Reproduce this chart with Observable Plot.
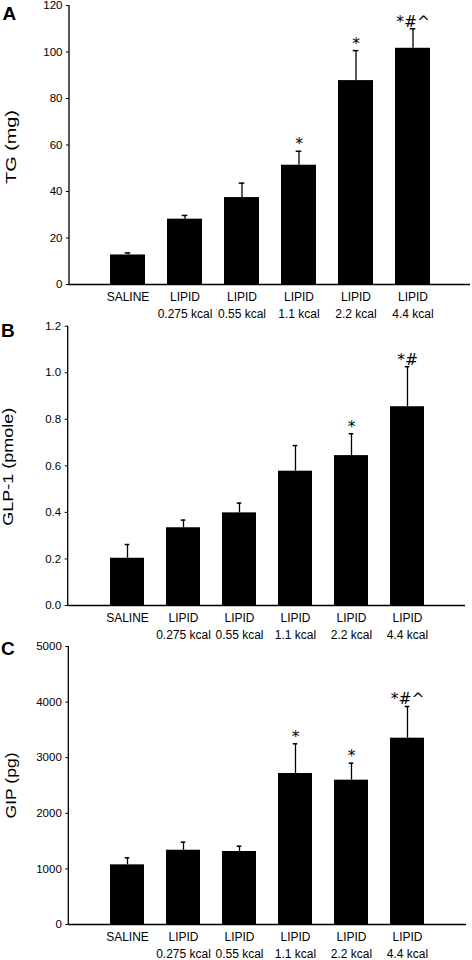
<!DOCTYPE html>
<html>
<head>
<meta charset="utf-8">
<script src="https://cdn.jsdelivr.net/npm/d3@7"></script>
<script src="https://cdn.jsdelivr.net/npm/@observablehq/plot@0.6"></script>
<style>
  body { margin: 0; background: #fff; font-family: "Liberation Sans", Arial, sans-serif; }
  #chart svg { display: block; }
</style>
</head>
<body>
<div id="chart"></div>
<script>
// ---- data ----
const groups = ["SALINE", "LIPID\n0.275 kcal", "LIPID\n0.55 kcal", "LIPID\n1.1 kcal", "LIPID\n2.2 kcal", "LIPID\n4.4 kcal"];

const tgMean = [12.7, 28.1, 37.4, 51.3, 87.7, 101.6];
const tgErr  = [0.9, 1.6, 6.2, 6.0, 12.9, 8.4];
const tgSig  = ["", "", "", "*", "*", "*#^"];
const tgTicks = [0, 20, 40, 60, 80, 100, 120];

const glpMean = [0.203, 0.334, 0.398, 0.577, 0.644, 0.854];
const glpErr  = [0.059, 0.033, 0.042, 0.110, 0.094, 0.172];
const glpSig  = ["", "", "", "", "*", "*#"];
const glpTicks = [0, 0.2, 0.4, 0.6, 0.8, 1.0, 1.2];

const gipMean = [1073, 1336, 1313, 2716, 2596, 3351];
const gipErr  = [126, 144, 95, 534, 305, 570];
const gipSig  = ["", "", "", "*", "*", "*#^"];
const gipTicks = [0, 1000, 2000, 3000, 4000, 5000];

const panelLetters = ["A", "B", "C"];
const yLabels = ["TG (mg)", "GLP-1 (pmole)", "GIP (pg)"];

// ---- layout / style ----
const W = 472, H = 320;
const FONT = "Liberation Sans, Arial, Helvetica, sans-serif";
const SIGFONT = "DejaVu Sans, Liberation Sans, sans-serif";

const panels = [
  {mean: tgMean, err: tgErr, sig: tgSig, ticks: tgTicks, fmt: d3.format("d"),
   mt: 5, mb: 36, ml: 69, mr: 2, xr: [99, 441], letterPos: [2, 13], labelX: 11, labelLen: 74, labelShift: 2},
  {mean: glpMean, err: glpErr, sig: glpSig, ticks: glpTicks, fmt: d3.format(".1f"),
   mt: 5.7, mb: 35, ml: 67.7, mr: 7, xr: [96.2, 438], letterPos: [0.5, 10], labelX: 8, labelLen: 118, labelShift: 1},
  {mean: gipMean, err: gipErr, sig: gipSig, ticks: gipTicks, fmt: d3.format("d"),
   mt: 6, mb: 36, ml: 68.3, mr: 6, xr: [96.5, 438], letterPos: [0.5, 8], labelX: 11, labelLen: 66, labelShift: 0}
];

function leftAxisLine(index, scales, values, dims) {
  const l = document.createElementNS("http://www.w3.org/2000/svg", "line");
  l.setAttribute("x1", dims.marginLeft);
  l.setAttribute("x2", dims.marginLeft);
  l.setAttribute("y1", dims.marginTop);
  l.setAttribute("y2", dims.height - dims.marginBottom);
  l.setAttribute("stroke", "black");
  l.setAttribute("stroke-width", 1.3);
  return l;
}

const root = document.getElementById("chart");

panels.forEach((p, i) => {
  const data = groups.map((g, j) => ({g, m: p.mean[j], e: p.err[j], top: p.mean[j] + p.err[j], s: p.sig[j]}));
  const ymax = p.ticks[p.ticks.length - 1];
  const chart = Plot.plot({
    width: W,
    height: H,
    marginTop: p.mt,
    marginBottom: p.mb,
    marginLeft: p.ml,
    marginRight: p.mr,
    style: {fontFamily: FONT, background: "white", color: "black", overflow: "visible"},
    x: {type: "band", domain: groups, range: p.xr, paddingInner: 0.386, paddingOuter: 0.193},
    y: {domain: [0, ymax]},
    marks: [
      Plot.barY(data, {x: "g", y: "m", fill: "black"}),
      Plot.ruleX(data, {x: "g", y1: "m", y2: "top", stroke: "black", strokeWidth: 1.3}),
      Plot.tickY(data, {x: "g", y: "top", stroke: "black", strokeWidth: 1.5, insetLeft: 14.7, insetRight: 14.7}),
      Plot.text(data.filter(d => d.s), {x: "g", y: "top", text: "s", lineAnchor: "bottom", dy: -2,
        fontSize: 15.5, fill: "black", fontFamily: SIGFONT}),
      Plot.axisY({ticks: p.ticks, tickFormat: p.fmt, tickSize: 3, tickPadding: 4, fontSize: 11.5,
        label: null, stroke: "black", fill: "black"}),
      Plot.axisX({tickSize: 0, tickPadding: 4.5, fontSize: 12, lineHeight: 1.42, label: null, fill: "black"}),
      Plot.ruleY([0], {stroke: "black", strokeWidth: 1.3}),
      leftAxisLine,
      Plot.text([yLabels[i]], {frameAnchor: "left", rotate: -90, dx: p.labelX - p.ml, dy: p.labelLen / 2 + p.labelShift,
        textAnchor: "start", lineAnchor: "middle", fontSize: 14, fill: "black", fontFamily: FONT}),
      Plot.text([panelLetters[i]], {frameAnchor: "top-left", dx: p.letterPos[0] - p.ml, dy: p.letterPos[1] - p.mt,
        textAnchor: "start", lineAnchor: "middle", fontSize: 19, fontWeight: "bold", fill: "black", fontFamily: FONT})
    ]
  });
  // stretch the y-axis title along its direction, as in the reference
  chart.querySelectorAll("text").forEach(t => {
    if (t.textContent === yLabels[i]) {
      t.setAttribute("textLength", p.labelLen);
      t.setAttribute("lengthAdjust", "spacingAndGlyphs");
    }
  });
  root.appendChild(chart);
});
</script>
</body>
</html>
